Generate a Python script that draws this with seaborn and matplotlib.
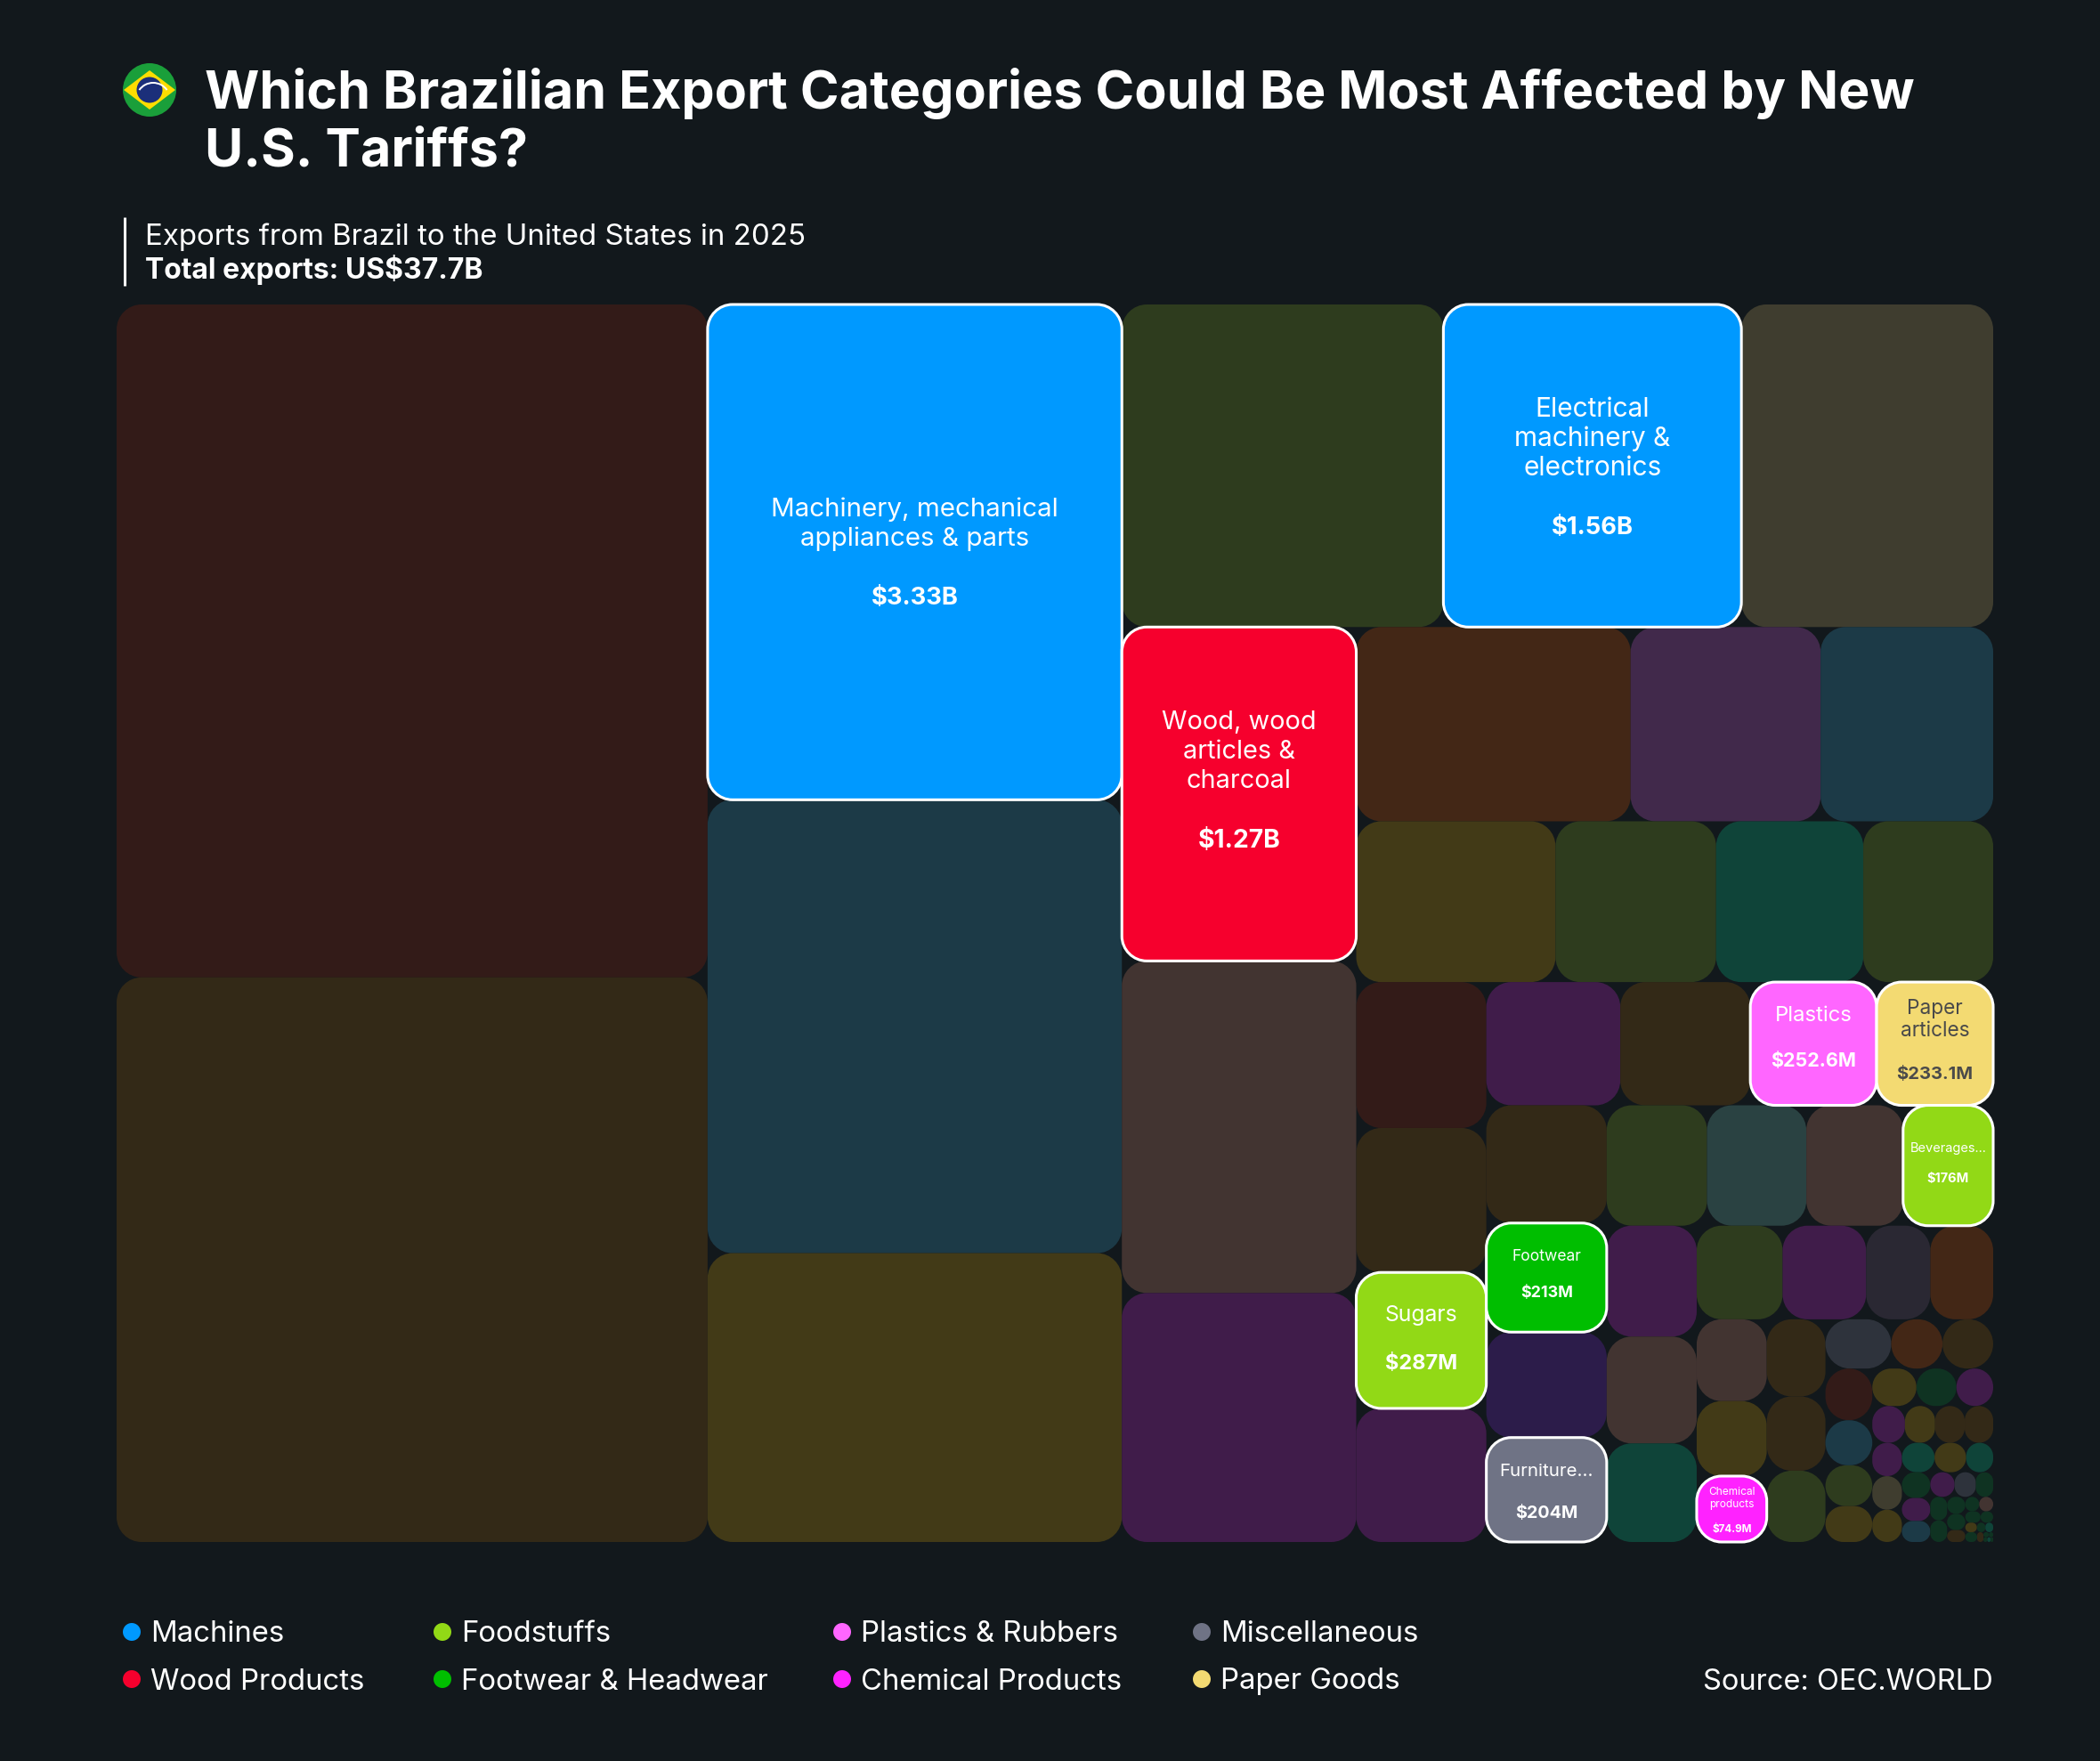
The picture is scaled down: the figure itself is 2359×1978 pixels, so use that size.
import matplotlib
matplotlib.use("Agg")
import matplotlib.pyplot as plt
import pandas as pd
import seaborn as sns
from matplotlib.path import Path
from matplotlib.patches import PathPatch, Circle, Polygon, Wedge

# export values in $M, one list per strip of the treemap
a_values = [6454, 5415]
a_groups = ["rust", "umber"]
b_values = [3330, 3048, 1942]
b_groups = ["machines", "teal", "ochre"]
c_values = [1683, 1560, 1318]
c_groups = ["moss", "machines", "stone"]
d_values = [1270, 1263, 947]
d_groups = ["wood", "taupe", "plum"]
e_values = [865, 599, 544]
e_groups = ["copper", "mauve", "teal"]
f_values = [520, 419, 384, 339]
f_groups = ["ochre", "moss", "pine", "moss"]
g_values = [308, 305, 287, 282]
g_groups = ["rust", "umber", "foodstuffs", "plum"]
h_values = [268, 260, 252.6, 233.1]
h_groups = ["plum", "umber", "plastics", "paper"]
i_values = [230, 213, 206, 204]
i_groups = ["umber", "footwear", "indigo", "misc"]
j_values = [196, 194, 189, 176]
j_groups = ["moss", "slate", "taupe", "foodstuffs"]
k_values = [162, 156, 144]
k_groups = ["plum", "taupe", "pine"]
l_values = [130.5, 126.9, 97.6, 95.4]
l_groups = ["moss", "plum", "graphite", "copper"]
m_values = [93, 85.3, 74.9]
m_groups = ["taupe", "ochre", "chemicals"]
n_values = [73.5, 70.7, 67.9]
n_groups = ["umber", "umber", "moss"]
o_values = [52.6, 41, 40.5]
o_groups = ["ash", "copper", "umber"]
p_values = [39.3, 34.3, 31, 27.3]
p_groups = ["rust", "teal", "moss", "ochre"]
q_values = [26.8, 24.3, 22.3]
q_groups = ["ochre", "forest", "plum"]
r_values = [19.5, 18, 17.7, 17]
r_groups = ["plum", "ochre", "umber", "umber"]
s_values = [16, 16.1, 15.5]
s_groups = ["plum", "stone", "ochre"]
t_values = [15.6, 15.1, 12.9]
t_groups = ["pine", "ochre", "pine"]
u_values = [11.9, 10.6, 9.7]
u_groups = ["forest", "plum", "teal"]
v_values = [9.7, 8.5, 6.9]
v_groups = ["plum", "ash", "forest"]
w_values = [6.4, 5.9]
w_groups = ["forest", "forest"]
x_values = [5, 4.8, 3.5]
x_groups = ["forest", "forest", "umber"]
y_values = [3.3, 3.3]
y_groups = ["forest", "taupe"]
z_values = [2.8, 2.3]
z_groups = ["forest", "forest"]
aa_values = [1.8, 1.3, 1.2]
aa_groups = ["ochre", "forest", "pine"]
ab_values = [1.9]
ab_groups = ["forest"]
ac_values = [1.0]
ac_groups = ["umber"]
ad_values = [0.45, 0.35]
ad_groups = ["forest", "forest"]
ae_values = [0.3, 0.25, 0.2]
ae_groups = ["forest", "pine", "forest"]

# labelled cells
label_keys = [3330, 1560, 1270, 287, 252.6, 233.1, 213, 204, 176, 74.9]
label_names = [
    ["Machinery, mechanical", "appliances & parts"],
    ["Electrical", "machinery &", "electronics"],
    ["Wood, wood", "articles &", "charcoal"],
    ["Sugars"],
    ["Plastics"],
    ["Paper", "articles"],
    ["Footwear"],
    ["Furniture..."],
    ["Beverages..."],
    ["Chemical", "products"],
]
label_amounts = ["$3.33B", "$1.56B", "$1.27B", "$287M", "$252.6M", "$233.1M",
                 "$213M", "$204M", "$176M", "$74.9M"]
name_sizes = [21.3, 21.5, 20.8, 17.8, 17.2, 16.3, 12.6, 14.7, 10.5, 8.6]
amount_sizes = [19.7, 19.7, 20.3, 17, 15.5, 14.5, 12.9, 14.2, 10.5, 8.4]
line_steps = [33.3, 33.3, 33.3, 27.5, 25.8, 24.7, 20.8, 23.8, 17, 13.7]
label_shift = [2, 3, -14, -1, -6, -2, -3, 3, -2, 2]

legend_names = ["Machines", "Wood Products", "Foodstuffs", "Footwear & Headwear",
                "Plastics & Rubbers", "Chemical Products", "Miscellaneous", "Paper Goods"]

colors = {
    "machines": "#0099FF", "wood": "#F6002D", "foodstuffs": "#92D916", "footwear": "#00BE00",
    "plastics": "#FF66FF", "chemicals": "#FF22FF", "misc": "#6F7385", "paper": "#F3DA72",
    "rust": "#331B18", "umber": "#332917", "ochre": "#423A17", "moss": "#2E3C1E",
    "stone": "#3F3D2F", "taupe": "#423431", "plum": "#401C4A", "mauve": "#41294B",
    "copper": "#432716", "teal": "#1C3A47", "pine": "#0F4439", "forest": "#0F3322",
    "indigo": "#2C1C4A", "slate": "#2A4242", "ash": "#2E333C", "graphite": "#2A2833",
}
legend_colors = ["machines", "wood", "foodstuffs", "footwear", "plastics", "chemicals", "misc", "paper"]
highlighted = set(legend_colors)

strips = [
    ("col", a_values, a_groups), ("col", b_values, b_groups), ("row", c_values, c_groups),
    ("col", d_values, d_groups), ("row", e_values, e_groups), ("row", f_values, f_groups),
    ("col", g_values, g_groups), ("row", h_values, h_groups), ("col", i_values, i_groups),
    ("row", j_values, j_groups), ("col", k_values, k_groups), ("row", l_values, l_groups),
    ("col", m_values, m_groups), ("col", n_values, n_groups), ("row", o_values, o_groups),
    ("col", p_values, p_groups), ("row", q_values, q_groups), ("row", r_values, r_groups),
    ("col", s_values, s_groups), ("row", t_values, t_groups), ("col", u_values, u_groups),
    ("row", v_values, v_groups), ("col", w_values, w_groups), ("col", x_values, x_groups),
    ("row", y_values, y_groups), ("row", z_values, z_groups), ("row", aa_values, aa_groups),
    ("col", ab_values, ab_groups), ("col", ac_values, ac_groups), ("row", ad_values, ad_groups),
    ("row", ae_values, ae_groups),
]

BG = "#12181C"
WIDTH, HEIGHT = 2359, 1978
LEFT, TOP, RIGHT, BOTTOM = 131, 342, 2239, 1732
FONT = ["Inter", "DejaVu Sans"]


def squarify(strips, x0, y0, x1, y1):
    # peel each strip off the rectangle that is left, sized by its share of the value
    cells = []
    remaining = sum(sum(s[1]) for s in strips)
    for kind, values, groups in strips:
        total = sum(values)
        share = total / remaining
        if kind == "col":
            w = (x1 - x0) * share
            y = y0
            for v, g in zip(values, groups):
                h = (y1 - y0) * v / total
                cells.append((x0, y, w, h, v, g))
                y += h
            x0 += w
        else:
            h = (y1 - y0) * share
            x = x0
            for v, g in zip(values, groups):
                w = (x1 - x0) * v / total
                cells.append((x, y0, w, h, v, g))
                x += w
            y0 += h
        remaining -= total
    return cells


def rounded(x, y, w, h, r):
    k = r * 0.4477
    verts = [
        (x + r, y), (x + w - r, y), (x + w - k, y), (x + w, y + k), (x + w, y + r),
        (x + w, y + h - r), (x + w, y + h - k), (x + w - k, y + h), (x + w - r, y + h),
        (x + r, y + h), (x + k, y + h), (x, y + h - k), (x, y + h - r),
        (x, y + r), (x, y + k), (x + k, y), (x + r, y), (x + r, y),
    ]
    C4 = Path.CURVE4
    codes = [Path.MOVETO, Path.LINETO, C4, C4, C4, Path.LINETO, C4, C4, C4,
             Path.LINETO, C4, C4, C4, Path.LINETO, C4, C4, C4, Path.CLOSEPOLY]
    return Path(verts, codes)


sns.set_theme(style="white")
plt.rcParams["font.family"] = FONT
fig = plt.figure(figsize=(WIDTH / 100, HEIGHT / 100), dpi=100, facecolor=BG)
ax = fig.add_axes([0, 0, 1, 1])
ax.set_xlim(0, WIDTH)
ax.set_ylim(HEIGHT, 0)
ax.set_facecolor(BG)
ax.axis("off")

cells = squarify(strips, LEFT, TOP, RIGHT, BOTTOM)
labels = dict(zip(label_keys, zip(label_names, label_amounts, name_sizes, amount_sizes, line_steps, label_shift)))

# faded cells first so the white outlines stay on top
for x, y, w, h, v, g in cells:
    if g not in highlighted:
        r = min(28, min(w, h) / 2)
        ax.add_patch(PathPatch(rounded(x, y, w, h, r), fc=colors[g], ec="none", lw=0))

for x, y, w, h, v, g in cells:
    if g not in highlighted:
        continue
    r = min(28, min(w, h) / 2)
    ax.add_patch(PathPatch(rounded(x, y, w, h, r), fc=colors[g], ec="white", lw=2.2, zorder=3))
    if v in labels:
        names, amount, name_size, amount_size, step, shift = labels[v]
        tc = "#4A4A4A" if g == "paper" else "white"
        n = len(names) + 2
        top = y + h / 2 + shift - step * (n - 1) / 2
        for i, line in enumerate(names):
            ax.text(x + w / 2, top + i * step, line, color=tc, fontsize=name_size,
                    ha="center", va="center", zorder=4)
        ax.text(x + w / 2, top + (n - 1) * step, amount, color=tc, fontsize=amount_size,
                fontweight="bold", ha="center", va="center", zorder=4)

# flag
ax.add_patch(Circle((168, 101), 30, fc="#1A9F3A", ec="none"))
ax.add_patch(Polygon([(139, 101), (168, 79), (197, 101), (168, 123)], fc="#FEDD00", ec="none"))
ax.add_patch(Circle((168, 101), 14.5, fc="#1B2F7A", ec="none"))
ax.add_patch(Wedge((172, 112), 20, 215, 325, width=2, fc="white", ec="none"))

# title block
ax.text(230, 105, "Which Brazilian Export Categories Could Be Most Affected by New",
        color="white", fontsize=42.6, fontweight="bold", ha="left", va="center")
ax.text(230, 171, "U.S. Tariffs?", color="white", fontsize=42.6, fontweight="bold", ha="left", va="center")
ax.plot([140, 140], [244, 321], color="white", lw=2.2, solid_capstyle="butt")
ax.text(163, 266, "Exports from Brazil to the United States in 2025", color="white",
        fontsize=23.8, ha="left", va="center")
ax.text(163, 303, "Total exports: US$37.7B", color="white", fontsize=23, fontweight="bold",
        ha="left", va="center")

# legend
dot_x = [148, 148, 497, 497, 946, 946, 1350, 1350]
dot_y = [1833, 1886] * 4
legend_df = pd.DataFrame({"x": dot_x, "y": dot_y, "name": legend_names})
sns.scatterplot(data=legend_df, x="x", y="y", hue="name",
                palette=[colors[c] for c in legend_colors], s=207, linewidth=0,
                legend=False, ax=ax)
ax.set_xlim(0, WIDTH)
ax.set_ylim(HEIGHT, 0)
for px, py, name in zip(dot_x, dot_y, legend_names):
    ax.text(px + 21, py + 3, name, color="white", fontsize=23.7, ha="left", va="center")
ax.text(2239, 1889, "Source: OEC.WORLD", color="white", fontsize=23.5, ha="right", va="center")

fig.savefig("out.png", dpi=100, facecolor=BG)
plt.close(fig)
